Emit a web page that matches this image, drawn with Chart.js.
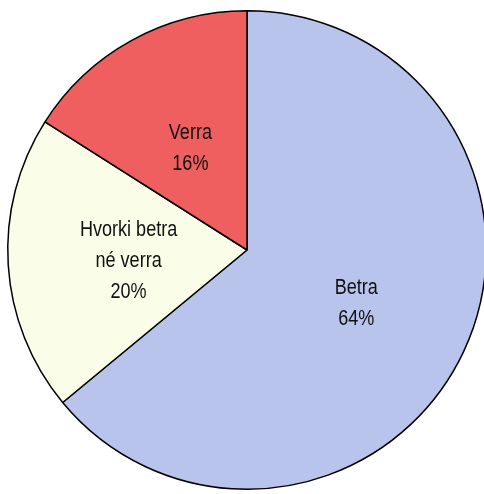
<!DOCTYPE html>
<html>
<head>
<meta charset="utf-8">
<script src="https://cdn.jsdelivr.net/npm/chart.js@4"></script>
<style>
  html, body { margin: 0; padding: 0; background: #fff; overflow: hidden; }
  #wrap { position: absolute; left: 0; top: 0; width: 494px; height: 500px; }
</style>
</head>
<body>
<div id="wrap"><canvas id="skodun" width="494" height="500"></canvas></div>
<script>
// Svör við spurningunni, í prósentum
const flokkar = ["Betra", "Hvorki betra\nné verra", "Verra"];
const hlutfoll = [64, 20, 16];
const litir = ["#b8c4ec", "#fafee8", "#ef5f5f"];

// Teiknar heiti og prósentu inni í hverri sneið (þjappað letur)
const sneidaMerki = {
    id: "sneidaMerki",
    afterDatasetsDraw(chart) {
        const ctx = chart.ctx;
        const meta = chart.getDatasetMeta(0);
        ctx.save();
        ctx.font = "22px 'Liberation Sans', Arial, sans-serif";
        ctx.fillStyle = "#111";
        ctx.textAlign = "center";
        ctx.textBaseline = "middle";
        meta.data.forEach((arc, i) => {
            const p = arc.getCenterPoint();
            const linur = flokkar[i].split("\n").concat(hlutfoll[i] + "%");
            const bil = 31;
            const y0 = p.y + 3 - (linur.length - 1) * bil / 2;
            linur.forEach((t, j) => {
                ctx.save();
                ctx.translate(p.x + 1, y0 + j * bil);
                ctx.scale(0.82, 1);
                ctx.fillText(t, 0, 0);
                ctx.restore();
            });
        });
        ctx.restore();
    }
};

new Chart(document.getElementById("skodun"), {
    type: "pie",
    data: {
        labels: flokkar,
        datasets: [{
            data: hlutfoll,
            backgroundColor: litir,
            borderColor: "#000",
            borderWidth: 1.5
        }]
    },
    options: {
        responsive: false,
        animation: false,
        layout: { padding: { left: 7, right: 7, top: 10, bottom: 10 } },
        plugins: {
            legend: { display: false },
            tooltip: { enabled: false }
        }
    },
    plugins: [sneidaMerki]
});
</script>
</body>
</html>
